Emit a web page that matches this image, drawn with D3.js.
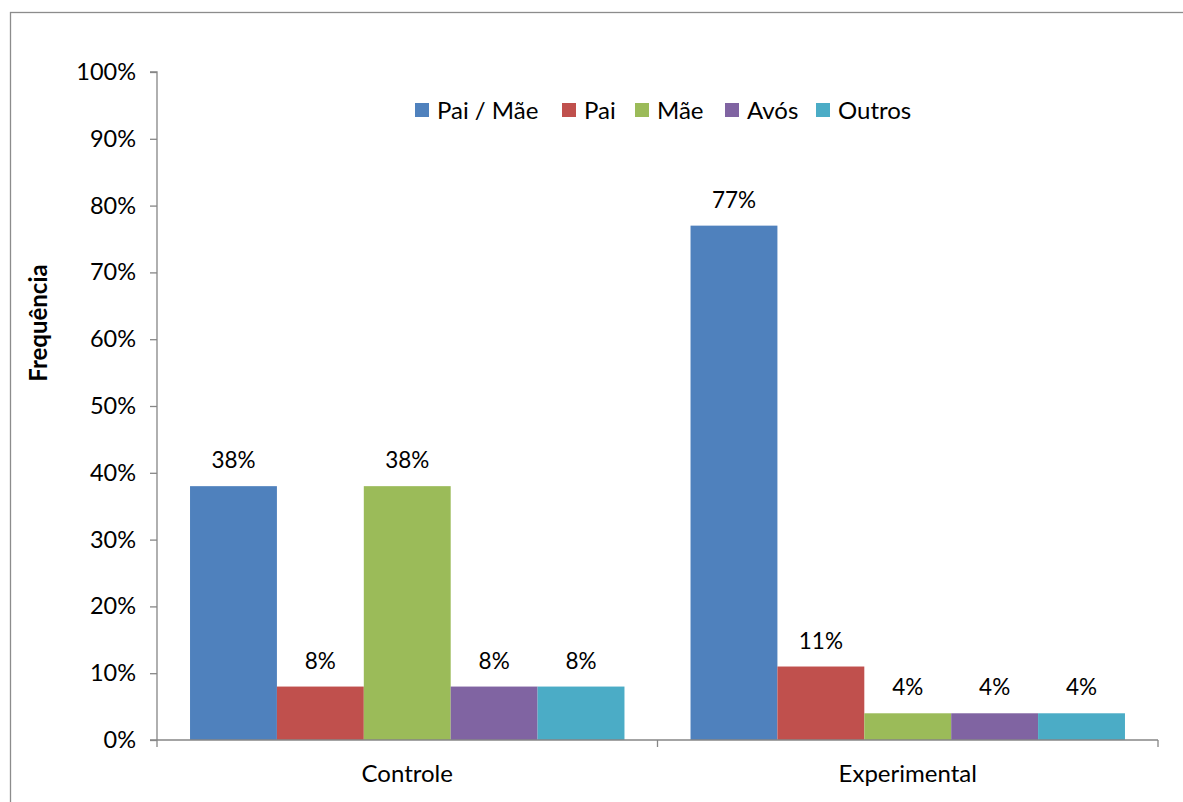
<!DOCTYPE html>
<html>
<head>
<meta charset="utf-8">
<script src="https://cdn.jsdelivr.net/npm/d3@7"></script>
<style>
  body { margin: 0; background: #fff; }
  svg { display: block; font-family: Lato, "Open Sans", sans-serif; }
</style>
</head>
<body>
<svg id="chart" width="1183" height="802"></svg>
<script>
// Responsável pela criança, por grupo
const categories = ["Controle", "Experimental"];
const seriesNames = ["Pai / Mãe", "Pai", "Mãe", "Avós", "Outros"];
const seriesColors = ["#4f81bd", "#c0504d", "#9bbb59", "#8064a2", "#4bacc6"];
const controleValues = [38, 8, 38, 8, 8];
const experimentalValues = [77, 11, 4, 4, 4];
const yTicks = [0, 10, 20, 30, 40, 50, 60, 70, 80, 90, 100];
const yTitle = "Frequência";

const values = [controleValues, experimentalValues];

const svg = d3.select("#chart");
const W = 1183, H = 802;

// outer frame
svg.append("rect")
  .attr("x", 10.5).attr("y", 12.5)
  .attr("width", W + 20).attr("height", H + 20)
  .attr("fill", "#fff").attr("stroke", "#8c8c8c").attr("stroke-width", 1.3);

const plot = { left: 157, right: 1158, top: 72, bottom: 740 };

const x0 = d3.scaleBand().domain(categories)
  .range([plot.left, plot.right]).paddingInner(0).paddingOuter(0);
const groupPad = 0.066;
const x1 = d3.scaleBand().domain(seriesNames)
  .range([x0.bandwidth() * groupPad, x0.bandwidth() * (1 - groupPad)]).padding(0);
const y = d3.scaleLinear().domain([0, 100]).range([plot.bottom, plot.top]);

const axisColor = "#868686";

// bars
const groups = svg.append("g").selectAll("g")
  .data(categories).join("g")
  .attr("transform", d => `translate(${x0(d)},0)`);

groups.each(function(cat, ci) {
  const g = d3.select(this);
  const rows = seriesNames.map((s, si) => ({ s, si, v: values[ci][si] }));
  g.selectAll("rect").data(rows).join("rect")
    .attr("x", d => x1(d.s))
    .attr("y", d => y(d.v))
    .attr("width", x1.bandwidth())
    .attr("height", d => y(0) - y(d.v))
    .attr("fill", d => seriesColors[d.si]);
  g.selectAll("text").data(rows).join("text")
    .attr("x", d => x1(d.s) + x1.bandwidth() / 2)
    .attr("y", d => y(d.v) - 18)
    .attr("text-anchor", "middle")
    .attr("font-size", 22.5)
    .attr("fill", "#000")
    .text(d => d.v + "%");
});

// y axis
const yAxis = d3.axisLeft(y).tickValues(yTicks).tickSize(7).tickPadding(14)
  .tickFormat(d => d + "%");
const gy = svg.append("g").attr("transform", `translate(${plot.left},0)`).call(yAxis);
gy.select(".domain").attr("stroke", axisColor).attr("stroke-width", 1.3)
  .attr("d", `M-7,${plot.top}H0V${plot.bottom}`);
gy.selectAll(".tick line").attr("stroke", axisColor).attr("stroke-width", 1.3);
gy.selectAll(".tick text").attr("font-size", 23.5).attr("fill", "#000")
  .attr("font-family", "Lato, sans-serif");

// x axis
const gx = svg.append("g").attr("transform", `translate(0,${plot.bottom})`);
gx.append("line").attr("x1", plot.left - 7).attr("x2", plot.right)
  .attr("y1", 0).attr("y2", 0).attr("stroke", axisColor).attr("stroke-width", 1.3);
const boundaries = [plot.left, ...categories.map(c => x0(c) + x0.bandwidth())];
gx.selectAll("line.tk").data(boundaries).join("line").attr("class", "tk")
  .attr("x1", d => d).attr("x2", d => d).attr("y1", 0).attr("y2", 7)
  .attr("stroke", axisColor).attr("stroke-width", 1.3);
gx.selectAll("text").data(categories).join("text")
  .attr("x", d => x0(d) + x0.bandwidth() / 2)
  .attr("y", 42)
  .attr("text-anchor", "middle")
  .attr("font-size", 24)
  .attr("fill", "#000")
  .text(d => d);

// y title
svg.append("text")
  .attr("transform", "translate(47,323) rotate(-90)")
  .attr("text-anchor", "middle")
  .attr("font-size", 24)
  .attr("font-weight", "bold")
  .attr("fill", "#000")
  .text(yTitle);

// legend
const legendX = [415, 562, 635, 725, 816];
const legend = svg.append("g").selectAll("g").data(seriesNames).join("g")
  .attr("transform", (d, i) => `translate(${legendX[i]},103)`);
legend.append("rect").attr("width", 14).attr("height", 14)
  .attr("fill", (d, i) => seriesColors[i]);
legend.append("text").attr("x", 22).attr("y", 16)
  .attr("font-size", 24).attr("fill", "#000").text(d => d);
</script>
</body>
</html>
